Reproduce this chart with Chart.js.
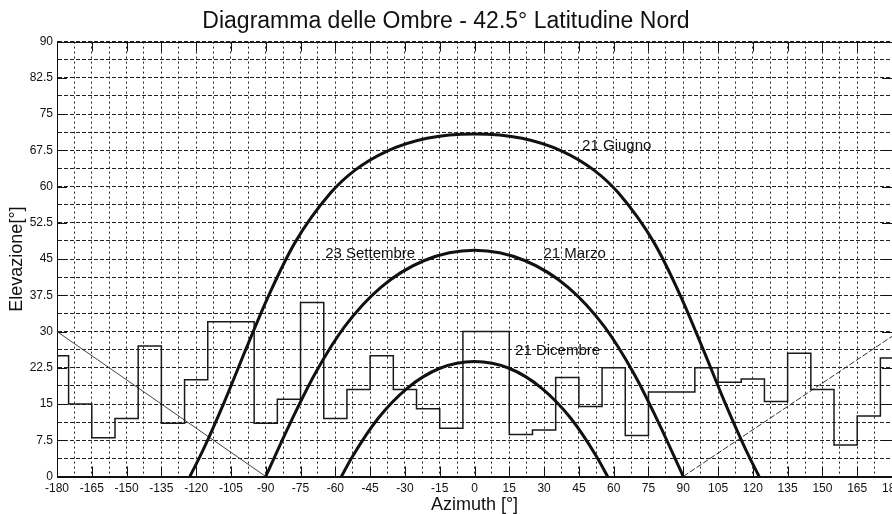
<!DOCTYPE html>
<html lang="it">
<head>
<meta charset="UTF-8"/>
<title>Diagramma delle Ombre</title>
<script src="https://cdn.jsdelivr.net/npm/chart.js@4/dist/chart.umd.min.js"></script>
<style>
  *{box-sizing:border-box;margin:0;padding:0}
  html,body{background:#fff;overflow:hidden}
  #box{width:948px;height:514px}
</style>
</head>
<body>
<div id="box"><canvas id="ombre"></canvas></div>
<script>
// tacche degli assi
const azTicks = [-180,-165,-150,-135,-120,-105,-90,-75,-60,-45,-30,-15,0,15,30,45,60,75,90,105,120,135,150,165,180];
const elTicks = [0,7.5,15,22.5,30,37.5,45,52.5,60,67.5,75,82.5,90];

// profilo dell'orizzonte (gradini: valore valido fino al punto successivo)
const skyAz = [-180,-175,-165,-155,-145,-135,-125,-115,-95,-85,-75,-65,-55,-45,-35,-25,-15,-5,15,25,35,45,55,65,75,95,105,115,125,135,145,155,165,175,180];
const skyEl = [25,15,8,12,27,11,20,32,11,16,36,12,18,25,18,14,10,30,8.7,9.6,20.5,14.5,22.5,8.5,17.5,22.5,19.5,20.2,15.5,25.5,18,6.5,12.5,24.5,24.5];

// percorsi solari
const giugnoAz = [-122.7,-117.1,-107.7,-98.5,-88.8,-77.4,-62.0,-51.5,-37.9,-20.5,0,20.5,37.9,51.5,62.0,77.4,88.8,98.5,107.7,117.1,122.7];
const giugnoEl = [0,5.4,15.6,26.4,37.4,48.4,58.7,63.4,67.3,70.0,70.9,70.0,67.3,63.4,58.7,48.4,37.4,26.4,15.6,5.4,0];
const equinozioAz = [-90,-79.7,-68.7,-56.0,-40.5,-21.6,0,21.6,40.5,56.0,68.7,79.7,90];
const equinozioEl = [0,10.8,21.3,31.0,39.1,44.7,46.8,44.7,39.1,31.0,21.3,10.8,0];
const dicembreAz = [-57.4,-52.8,-41.6,-28.9,-14.9,0,14.9,28.9,41.6,52.8,57.4];
const dicembreEl = [0,4.0,12.0,18.3,22.4,23.8,22.4,18.3,12.0,4.0,0];

// linee limite ai lati
const limSxAz = [-180,-90], limSxEl = [30,0];
const limDxAz = [90,180],   limDxEl = [0,29];

// etichette delle curve
const etichette = ['21 Giugno','23 Settembre','21 Marzo','21 Dicembre'];
const etAz = [46.4,-64.4,29.7,17.5];
const etEl = [68.4,46.0,46.0,26.0];

const pts = (xs, ys) => xs.map((x, i) => ({x, y: ys[i]}));
const FONT = '"Liberation Sans", Arial, sans-serif';
Chart.defaults.font.family = FONT;
Chart.defaults.color = '#111';

const curva = (data) => ({data, borderColor:'#111', borderWidth:3, pointRadius:0, fill:false, cubicInterpolationMode:'monotone'});

// cornice e tacche interne, poi le etichette delle curve
const cornice = {
  id: 'cornice',
  beforeDatasetsDraw(chart) {
    const {ctx, chartArea: a, scales: {x, y}} = chart;
    const L = 10;
    ctx.save();
    ctx.strokeStyle = '#111';
    ctx.lineWidth = 1;
    ctx.setLineDash([]);
    ctx.strokeRect(Math.round(a.left) + .5, Math.round(a.top) + .5, Math.round(a.right - a.left), Math.round(a.bottom - a.top));
    ctx.beginPath();
    azTicks.forEach(v => {
      const px = Math.round(x.getPixelForValue(v)) + .5;
      ctx.moveTo(px, a.bottom); ctx.lineTo(px, a.bottom - L);
      ctx.moveTo(px, a.top);    ctx.lineTo(px, a.top + L);
    });
    elTicks.forEach(v => {
      const py = Math.round(y.getPixelForValue(v)) + .5;
      ctx.moveTo(a.left, py);  ctx.lineTo(a.left + L, py);
      ctx.moveTo(a.right, py); ctx.lineTo(a.right - L, py);
    });
    ctx.stroke();
    ctx.restore();
  },
  afterDatasetsDraw(chart) {
    const {ctx, scales: {x, y}} = chart;
    ctx.save();
    ctx.font = '15px ' + FONT;
    ctx.fillStyle = '#111';
    ctx.textAlign = 'left';
    ctx.textBaseline = 'middle';
    etichette.forEach((t, i) => ctx.fillText(t, x.getPixelForValue(etAz[i]), y.getPixelForValue(etEl[i])));
    ctx.restore();
  }
};

new Chart(document.getElementById('ombre'), {
  type: 'line',
  data: {datasets: [
    curva(pts(giugnoAz, giugnoEl)),
    curva(pts(equinozioAz, equinozioEl)),
    curva(pts(dicembreAz, dicembreEl)),
    {data: pts(skyAz, skyEl), stepped: 'before', borderColor:'#1a1a1a', borderWidth:1.5, pointRadius:0, fill:false},
    {data: pts(limSxAz, limSxEl), borderColor:'#444', borderWidth:1, pointRadius:0, fill:false},
    {data: pts(limDxAz, limDxEl), borderColor:'#333', borderWidth:1, borderDash:[6,2], pointRadius:0, fill:false},
  ]},
  options: {
    responsive: true,
    maintainAspectRatio: false,
    animation: false,
    layout: {padding: {right: 56}},
    plugins: {
      legend: {display: false},
      tooltip: {enabled: false},
      title: {display: true, text: 'Diagramma delle Ombre - 42.5° Latitudine Nord',
              font: {size: 23, weight: 'normal'}, color: '#111', padding: {top: 8, bottom: 6}},
    },
    scales: {
      x: {
        type: 'linear', min: -180, max: 180,
        afterFit: s => { s.height = 37.5; },
        ticks: {stepSize: 7.5, autoSkip: false, maxRotation: 0, padding: 5, font: {size: 12}, color: '#111',
                callback: v => azTicks.includes(v) ? String(v) : ''},
        grid: {color: '#222', lineWidth: 1, drawTicks: false},
        border: {display: true, color: '#111', width: 1, dash: [2,3]},
        title: {display: true, text: 'Azimuth [°]', font: {size: 18, lineHeight: 1}, color: '#111', padding: 0},
      },
      y: {
        min: 0, max: 90,
        afterFit: s => { s.width = 57; },
        ticks: {stepSize: 3.75, autoSkip: false, padding: 4, font: {size: 12}, color: '#111',
                callback: v => elTicks.includes(v) ? String(v) : ''},
        grid: {color: '#222', lineWidth: 1, drawTicks: false},
        border: {display: true, color: '#111', width: 1, dash: [4,2]},
        title: {display: true, text: 'Elevazione[°]', font: {size: 18, lineHeight: 1}, color: '#111', padding: {top: 8, bottom: 0}},
      }
    }
  },
  plugins: [cornice]
});
</script>
</body>
</html>
